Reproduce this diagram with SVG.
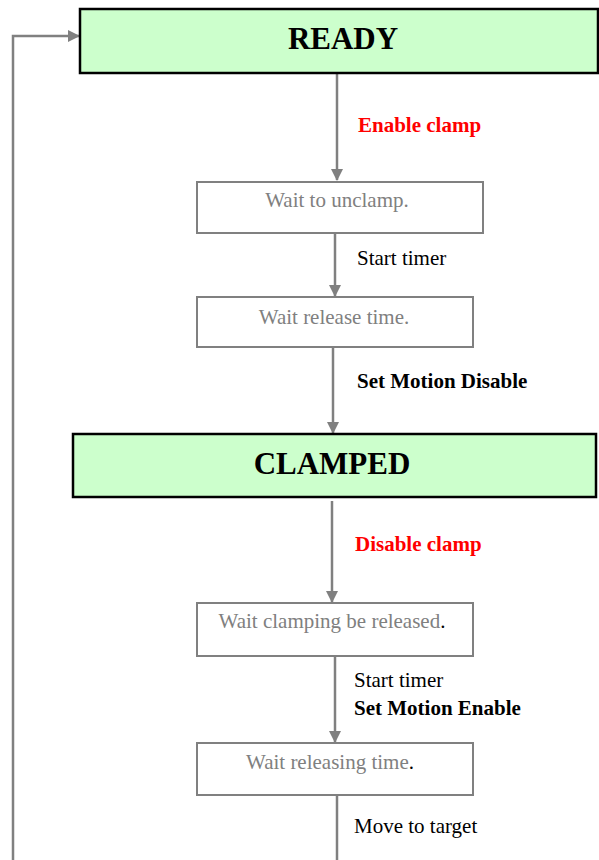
<svg xmlns="http://www.w3.org/2000/svg" width="599" height="860" viewBox="0 0 599 860">
<style>
.state{fill:#ccffcc;stroke:#000;stroke-width:2.5}
.step{fill:#fff;stroke:#808080;stroke-width:2}
.st{font-family:"Liberation Serif",serif;font-weight:bold;font-size:31px;fill:#000;text-anchor:middle}
.sp{font-family:"Liberation Serif",serif;font-size:21px;fill:#808080;text-anchor:middle}
.lb{font-family:"Liberation Serif",serif;font-size:21px;fill:#000}
.b{font-weight:bold}
.red{fill:#ff0000}
.c{stroke:#808080;stroke-width:2.5;fill:none}
</style>
<defs>
<marker id="ah" markerWidth="12" markerHeight="12" refX="11" refY="6" orient="auto" markerUnits="userSpaceOnUse"><path d="M0,0 L12,6 L0,12 z" fill="#808080"/></marker>
</defs>
<rect width="599" height="860" fill="#fff"/>
<g id="connectors">
<polyline class="c" points="13,860 13,36 79,36" marker-end="url(#ah)"/>
<line class="c" x1="337" y1="74" x2="337" y2="180" marker-end="url(#ah)"/>
<line class="c" x1="335" y1="234" x2="335" y2="296" marker-end="url(#ah)"/>
<line class="c" x1="333" y1="348" x2="333" y2="433" marker-end="url(#ah)"/>
<line class="c" x1="332" y1="501" x2="332" y2="602" marker-end="url(#ah)"/>
<line class="c" x1="335" y1="657" x2="335" y2="742" marker-end="url(#ah)"/>
<line class="c" x1="337" y1="793" x2="337" y2="860"/>
<text class="lb b red" x="358" y="132">Enable clamp</text>
<text class="lb" x="357" y="265">Start timer</text>
<text class="lb b" x="357" y="388">Set Motion Disable</text>
<text class="lb b red" x="355" y="551">Disable clamp</text>
<text class="lb" x="354" y="687">Start timer</text>
<text class="lb b" x="354" y="715">Set Motion Enable</text>
<text class="lb" x="354" y="833">Move to target</text>
</g>
<g id="ready">
<rect class="state" x="80" y="9" width="518" height="64"/>
<text class="st" x="343" y="49">READY</text>
</g>
<g id="wait-unclamp">
<rect class="step" x="197" y="182" width="286" height="51"/>
<text class="sp" x="337" y="207">Wait to unclamp.</text>
</g>
<g id="wait-release">
<rect class="step" x="197" y="297" width="276" height="50"/>
<text class="sp" x="334" y="324">Wait release time.</text>
</g>
<g id="clamped">
<rect class="state" x="73" y="434" width="523" height="63"/>
<text class="st" x="332" y="474">CLAMPED</text>
</g>
<g id="wait-clamping-released">
<rect class="step" x="197" y="603" width="276" height="53"/>
<text class="sp" x="332" y="628">Wait clamping be released<tspan fill="#000">.</tspan></text>
</g>
<g id="wait-releasing-time">
<rect class="step" x="197" y="743" width="276" height="52"/>
<text class="sp" x="330" y="769">Wait releasing time<tspan fill="#000">.</tspan></text>
</g>
</svg>
